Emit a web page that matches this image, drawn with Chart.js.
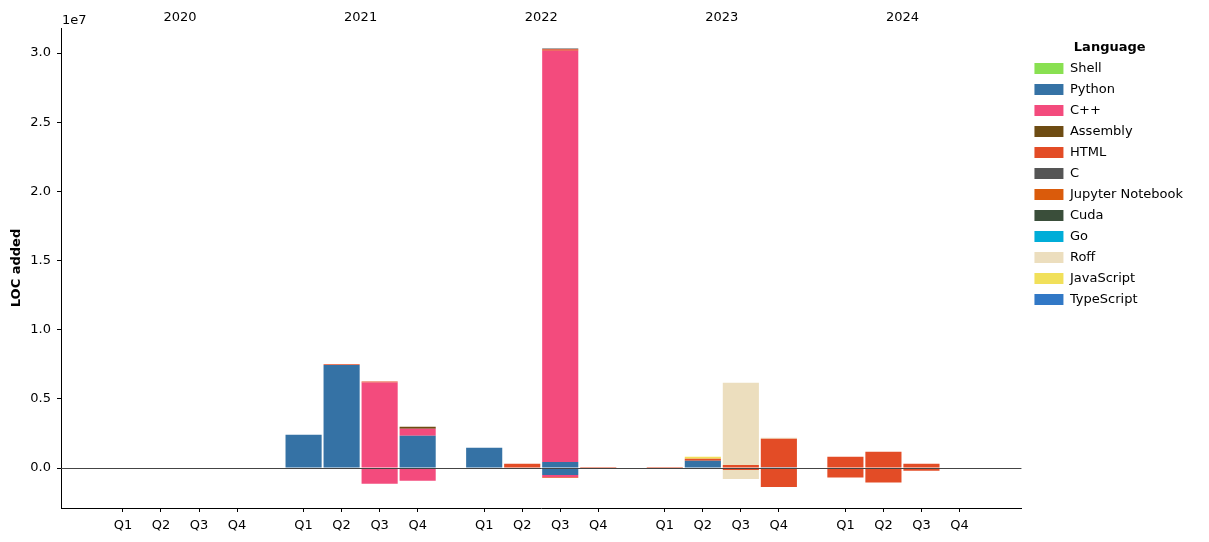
<!DOCTYPE html>
<html>
<head>
<meta charset="utf-8">
<script src="https://cdn.jsdelivr.net/npm/chart.js@4/dist/chart.umd.min.js"></script>
<style>
  body { margin: 0; background: #fff; }
  #wrap { width: 1209px; height: 542px; }
</style>
</head>
<body>
<div id="wrap"><canvas id="locChart"></canvas></div>
<script>
const yearLabels = ['2020', '2021', '2022', '2023', '2024'];
const quarterLabels = ['Q1', 'Q2', 'Q3', 'Q4'];
const languages = ['Shell', 'Python', 'C++', 'Assembly', 'HTML', 'C', 'Jupyter Notebook', 'Cuda', 'Go', 'Roff', 'JavaScript', 'TypeScript'];
const colors = ['#89e051', '#3572A5', '#f34b7d', '#6E4C13', '#e34c26', '#555555', '#DA5B0B', '#3A4E3A', '#00ADD8', '#ecdebe', '#f1e05a', '#3178c6'];

// LOC in millions, one value per quarter 2020 Q1 .. 2024 Q4
//                 |------ 2020 -----|  |-------- 2021 --------|  |-------- 2022 ---------|  |-------- 2023 --------|  |-------- 2024 --------|
const shellAdd   = [0, 0, 0, 0,   0, 0, 0, 0,   0, 0, 0, 0,   0, 0, 0, 0,   0, 0, 0, 0];
const pythonAdd  = [0, 0, 0, 0,   2.41, 7.45, 0, 2.34,   1.47, 0, 0.43, 0,   0, 0.53, 0, 0.05,   0.03, 0.03, 0, 0];
const cppAdd     = [0, 0, 0, 0,   0, 0, 6.19, 0.50,   0, 0, 29.74, 0,   0, 0, 0, 0,   0, 0, 0, 0];
const asmAdd     = [0, 0, 0, 0,   0, 0, 0, 0.15,   0, 0, 0, 0,   0, 0, 0, 0,   0, 0, 0, 0];
const htmlAdd    = [0, 0, 0, 0,   0, 0.06, 0.06, 0,   0, 0.31, 0.10, 0.08,   0.07, 0.14, 0.22, 2.07,   0.79, 1.15, 0.31, 0];
const cAdd       = [0, 0, 0, 0,   0, 0, 0, 0,   0, 0, 0.06, 0,   0, 0, 0, 0,   0, 0, 0, 0];
const jupyterAdd = [0, 0, 0, 0,   0, 0, 0, 0,   0, 0, 0, 0,   0, 0, 0, 0,   0, 0, 0, 0];
const cudaAdd    = [0, 0, 0, 0,   0, 0, 0, 0,   0, 0, 0, 0,   0, 0, 0, 0,   0, 0, 0, 0];
const goAdd      = [0, 0, 0, 0,   0, 0, 0, 0,   0, 0, 0, 0,   0, 0, 0, 0,   0, 0, 0, 0];
const roffAdd    = [0, 0, 0, 0,   0, 0, 0, 0,   0, 0, 0, 0,   0, 0, 5.95, 0.07,   0, 0, 0, 0];
const jsAdd      = [0, 0, 0, 0,   0, 0, 0, 0,   0, 0, 0, 0,   0, 0.14, 0, 0,   0, 0, 0, 0];
const tsAdd      = [0, 0, 0, 0,   0, 0, 0, 0,   0, 0, 0, 0,   0, 0, 0, 0,   0, 0, 0, 0];

const shellDel   = [0, 0, 0, 0,   0, 0, 0, 0,   0, 0, 0, 0,   0, 0, 0, 0,   0, 0, 0, 0];
const pythonDel  = [0, 0, 0, 0,   0, 0, 0, 0,   0, 0, -0.50, 0,   0, 0, 0, 0,   0, 0, 0, 0];
const cppDel     = [0, 0, 0, 0,   0, 0, -1.14, -0.92,   0, 0, -0.15, 0,   0, 0, 0, 0,   0, 0, 0, 0];
const asmDel     = [0, 0, 0, 0,   0, 0, 0, 0,   0, 0, 0, 0,   0, -0.06, -0.04, 0,   0, 0, 0, 0];
const htmlDel    = [0, 0, 0, 0,   0, 0, 0, 0,   0, -0.04, -0.05, 0,   0, 0, -0.10, -1.37,   -0.68, -1.04, -0.20, 0];
const cDel       = [0, 0, 0, 0,   0, 0, 0, 0,   0, 0, 0, 0,   0, 0, 0, 0,   0, 0, 0, 0];
const jupyterDel = [0, 0, 0, 0,   0, 0, 0, 0,   0, 0, 0, 0,   0, 0, 0, 0,   0, 0, 0, 0];
const cudaDel    = [0, 0, 0, 0,   0, 0, 0, 0,   0, 0, 0, 0,   0, 0, 0, 0,   0, 0, 0, 0];
const goDel      = [0, 0, 0, 0,   0, 0, 0, 0,   0, 0, 0, 0,   0, 0, 0, 0,   0, 0, 0, 0];
const roffDel    = [0, 0, 0, 0,   0, 0, 0, 0,   0, 0, 0, 0,   0, 0, -0.65, 0,   0, 0, 0, 0];
const jsDel      = [0, 0, 0, 0,   0, 0, 0, 0,   0, 0, 0, 0,   0, 0, 0, 0,   0, 0, 0, 0];
const tsDel      = [0, 0, 0, 0,   0, 0, 0, 0,   0, 0, 0, 0,   0, 0, 0, 0,   0, 0, 0, 0];

const added = [shellAdd, pythonAdd, cppAdd, asmAdd, htmlAdd, cAdd, jupyterAdd, cudaAdd, goAdd, roffAdd, jsAdd, tsAdd];
const removed = [shellDel, pythonDel, cppDel, asmDel, htmlDel, cDel, jupyterDel, cudaDel, goDel, roffDel, jsDel, tsDel];

// quarters sit one unit apart, years are separated by an extra 0.75
const yearGap = 4.75;
const xPos = [];
yearLabels.forEach((y, yi) => quarterLabels.forEach((q, qi) => xPos.push(yi * yearGap + qi)));
const yearPos = yearLabels.map((y, yi) => yi * yearGap + 1.5);

const toPoints = arr => arr.map((v, i) => ({ x: xPos[i], y: v }));

const datasets = [];
languages.forEach((lang, i) => datasets.push({
    label: lang, data: toPoints(added[i]), backgroundColor: colors[i], stack: 'loc'
}));
languages.forEach((lang, i) => datasets.push({
    label: lang + ' removed', data: toPoints(removed[i]), backgroundColor: colors[i], stack: 'loc'
}));

const font = { family: 'DejaVu Sans', size: 13 };

const zeroLine = {
    id: 'zeroLine',
    afterDatasetsDraw(chart) {
        const { ctx, chartArea, scales } = chart;
        const y = Math.round(scales.y.getPixelForValue(0)) + 0.5;
        ctx.save();
        ctx.strokeStyle = '#444';
        ctx.lineWidth = 1;
        ctx.beginPath();
        ctx.moveTo(chartArea.left, y);
        ctx.lineTo(chartArea.right, y);
        ctx.stroke();
        ctx.restore();
    },
    afterDraw(chart) {
        const { ctx, chartArea } = chart;
        ctx.save();
        ctx.font = '13px "DejaVu Sans"';
        ctx.fillStyle = '#000';
        ctx.textBaseline = 'middle';
        ctx.fillText('1e7', chartArea.left + 1, 21);
        ctx.restore();
    }
};

new Chart(document.getElementById('locChart'), {
    type: 'bar',
    data: { datasets: datasets },
    options: {
        responsive: true,
        maintainAspectRatio: false,
        animation: false,
        layout: { padding: { left: 0, right: 16, top: 0, bottom: 0 } },
        datasets: { bar: { barPercentage: 0.95, categoryPercentage: 1.0, borderWidth: 0 } },
        plugins: {
            tooltip: { enabled: false },
            legend: {
                position: 'right',
                align: 'start',
                title: { display: true, text: 'Language', color: '#000', font: { family: 'DejaVu Sans', size: 13, weight: 'bold', lineHeight: 1 }, padding: { top: 41, bottom: 0 } },
                labels: {
                    boxWidth: 29, boxHeight: 11, padding: 8, color: '#000', font: font,
                    filter: item => item.datasetIndex < languages.length
                }
            }
        },
        scales: {
            x: {
                type: 'linear',
                stacked: true,
                offset: false,
                min: -1.63,
                max: 23.63,
                afterBuildTicks: axis => { axis.ticks = xPos.map(v => ({ value: v })); },
                afterFit: axis => { axis.height = 34; },
                ticks: {
                    autoSkip: false, maxRotation: 0, padding: 6, color: '#000', font: font,
                    callback: (v, i) => quarterLabels[i % 4]
                },
                grid: { offset: false, drawOnChartArea: false, tickLength: 4, tickColor: '#000', tickWidth: 1 },
                border: { display: true, color: '#000', width: 1 }
            },
            x2: {
                type: 'linear',
                position: 'top',
                offset: false,
                min: -1.63,
                max: 23.63,
                afterBuildTicks: axis => { axis.ticks = yearPos.map(v => ({ value: v })); },
                afterFit: axis => { axis.height = 28; },
                ticks: {
                    autoSkip: false, maxRotation: 0, padding: 3, color: '#000', font: font,
                    callback: (v, i) => yearLabels[i]
                },
                grid: { display: false, drawTicks: false, offset: false },
                border: { display: false }
            },
            y: {
                stacked: true,
                min: -2.89,
                max: 31.81,
                afterBuildTicks: axis => { axis.ticks = [0, 5, 10, 15, 20, 25, 30].map(v => ({ value: v })); },
                afterFit: axis => { axis.width = 61; },
                ticks: {
                    padding: 6, color: '#000', font: font,
                    callback: v => (v / 10).toFixed(1)
                },
                title: { display: true, text: 'LOC added', color: '#000', font: { family: 'DejaVu Sans', size: 13, weight: 'bold' }, padding: { top: 9, bottom: 4 } },
                grid: { drawOnChartArea: false, tickLength: 4, tickColor: '#000', tickWidth: 1 },
                border: { display: true, color: '#000', width: 1 }
            },
            // empty spacer between the plot and the legend
            gap: {
                type: 'linear',
                position: 'right',
                afterFit: axis => { axis.width = 5; },
                ticks: { display: false },
                grid: { display: false, drawTicks: false },
                border: { display: false }
            }
        }
    },
    plugins: [zeroLine]
});
</script>
</body>
</html>
